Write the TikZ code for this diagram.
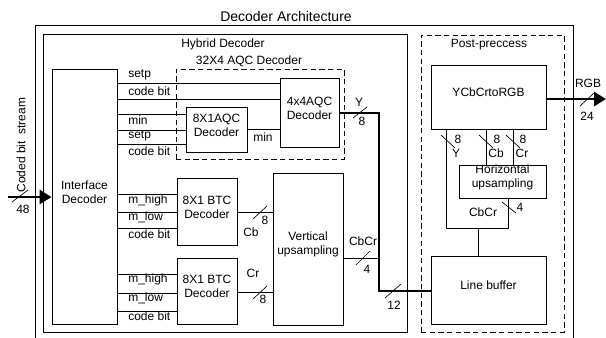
\documentclass[tikz,border=0pt]{standalone}
\usepackage{fontspec}
\setmainfont{Liberation Sans}
\usetikzlibrary{fit,arrows.meta}
\begin{document}
\begin{tikzpicture}[x=0.75pt,y=-0.75pt,
  font=\fontsize{9}{10.5}\selectfont,
  blk/.style={draw, line width=0.7pt, inner sep=0pt, align=center},
  ln/.style={line width=0.7pt},
  lbl/.style={inner sep=0pt},
  thk/.style={line width=2.2pt},
  dbox/.style={draw, line width=0.7pt, inner sep=0pt, dash pattern=on 4pt off 2.5pt},
  tick/.style={line width=0.5pt},
  arr/.style={line width=2.2pt, -{Triangle[length=9pt,width=10.5pt]}}]
\useasboundingbox (0,0) rectangle (606,337);

% frames
\node[lbl, font=\fontsize{10.5}{12}\selectfont] (title) at (286,16) {Decoder Architecture};
\node[blk, fit={(35,25) (573,360)}] (outer) {};
\node[blk, fit={(43,34) (407,332)}] (hyb) {};
\node[lbl] (hybt) at (223,44) {Hybrid Decoder};
\node[dbox, fit={(176,69) (344,159)}] (aqc32) {};
\node[lbl] (aqc32t) at (249,61) {32X4 AQC Decoder};
\node[dbox, fit={(421,35) (564,332)}] (post) {};
\node[lbl] (postt) at (489,45) {Post-preccess};

% blocks
\node[blk, fit={(52,69) (117,324)}] (iface) {Interface\\Decoder};
\node[blk, fit={(186,107) (247,152)}] (aqc8) {8X1AQC\\Decoder};
\node[blk, fit={(280,78) (339,147)}] (aqc4) {4x4AQC\\Decoder};
\node[blk, fit={(177,178) (237,245)}] (btc1) {8X1 BTC\\Decoder};
\node[blk, fit={(177,258) (237,324)}] (btc2) {8X1 BTC\\Decoder};
\node[blk, fit={(273,173) (343,325)}] (vup) {Vertical\\upsampling};
\node[blk, fit={(431,65) (546,129)}] (ycc) {YCbCrtoRGB};
\node[blk, fit={(459,165) (546,198)}] (hup) {Horizontal\\upsampling};
\node[blk, fit={(431,256) (546,324)}] (lb) {Line buffer};

% interface -> AQC
\draw[ln] (iface.east |- 0,83) -- (aqc4.west |- 0,83);
\draw[ln] (iface.east |- 0,99) -- (aqc4.west |- 0,99);
\draw[ln] (iface.east |- 0,114) -- (aqc8.west |- 0,114);
\draw[ln] (iface.east |- 0,130) -- (aqc8.west |- 0,130);
\draw[ln] (iface.east |- 0,144) -- (aqc8.west |- 0,144);
\draw[ln] (aqc8.east |- 0,129) -- (aqc4.west |- 0,129);
% interface -> BTC
\draw[ln] (iface.east |- 0,194) -- (btc1.west |- 0,194);
\draw[ln] (iface.east |- 0,212) -- (btc1.west |- 0,212);
\draw[ln] (iface.east |- 0,228) -- (btc1.west |- 0,228);
\draw[ln] (iface.east |- 0,274) -- (btc2.west |- 0,274);
\draw[ln] (iface.east |- 0,293) -- (btc2.west |- 0,293);
\draw[ln] (iface.east |- 0,311) -- (btc2.west |- 0,311);
% BTC -> vertical upsampling
\draw[ln] (btc1.east |- 0,212) -- (vup.west |- 0,212);
\draw[ln] (btc2.east |- 0,292) -- (vup.west |- 0,292);

% labels on wires
\node[lbl, anchor=west] (l1) at (128,75) {setp};
\node[lbl, anchor=west] (l2) at (128,91) {code bit};
\node[lbl, anchor=west] (l3) at (128,120) {min};
\node[lbl, anchor=west] (l4) at (128,136) {setp};
\node[lbl, anchor=west] (l5) at (128,151) {code bit};
\node[lbl, anchor=west] (l6) at (128,200) {m\_high};
\node[lbl, anchor=west] (l7) at (128,217) {m\_low};
\node[lbl, anchor=west] (l8) at (128,234) {code bit};
\node[lbl, anchor=west] (l9) at (128,279) {m\_high};
\node[lbl, anchor=west] (l10) at (128,298) {m\_low};
\node[lbl, anchor=west] (l11) at (128,316) {code bit};
\node[lbl] (lmin) at (263,137) {min};

% thick Y path
\coordinate (tc1) at (379,113);
\coordinate (tc2) at (379,291);
\coordinate (tc3) at (379,258);
\draw[thk] (aqc4.east |- tc1) -- (tc1) -- (tc2) -- (lb.west |- tc2);
\draw[ln] (vup.east |- tc3) -- (tc3);
\node[lbl] (ly) at (359,102) {Y};
\node[lbl] (ly8) at (362,121) {8};
\draw[tick] (353,118) -- (367,107);
\node[lbl] (lcb) at (251,232) {Cb};
\node[lbl] (lcb8) at (265,220) {8};
\draw[tick] (253,219) -- (267,206);
\node[lbl] (lcr) at (253,273) {Cr};
\node[lbl] (lcr8) at (263,299) {8};
\draw[tick] (253,299) -- (267,286);
\node[lbl] (lcbcr) at (363,241) {CbCr};
\node[lbl] (lcbcr4) at (367,269) {4};
\draw[tick] (356,265) -- (370,251);
\node[lbl] (l12) at (394,305) {12};
\draw[tick] (385,298) -- (401,284);

% input arrow
\coordinate (cbs) at (8,197);
\draw[arr] (cbs) -- (iface.west |- cbs);
\node[lbl, rotate=90] (cbst) at (21,145) {Coded bit\ \ stream};
\node[lbl] (l48) at (23,209) {48};
\draw[tick] (12,202) -- (28,190);

% output arrow
\coordinate (rgb) at (606,99);
\draw[arr] (ycc.east |- rgb) -- (rgb);
\node[lbl] (lrgb) at (588,83) {RGB};
\node[lbl] (l24) at (587,116) {24};
\draw[tick] (580,106) -- (594,93);

% post-process wiring
\coordinate (bl) at (446,228);
\coordinate (br) at (508,228);
\coordinate (bm) at (478,228);
\draw[ln] (ycc.south -| bl) -- (bl) -- (br) -- (hup.south -| br);
\draw[ln] (bm) -- (lb.north -| bm);
\draw[ln] (ycc.south -| 486,0) -- (hup.north -| 486,0);
\draw[ln] (ycc.south -| 513,0) -- (hup.north -| 513,0);
\draw[tick] (441,135) -- (455,148);
\node[lbl] (py8) at (458,139) {8};
\node[lbl] (pyy) at (456,153) {Y};
\draw[tick] (479,135) -- (493,148);
\node[lbl] (pcb8) at (497,139) {8};
\draw[tick] (506,135) -- (520,148);
\node[lbl] (pcb) at (496,153) {Cb};
\node[lbl] (pcr8) at (523,139) {8};
\node[lbl] (pcr) at (522,153) {Cr};
\node[lbl] (pcbcr) at (483,212) {CbCr};
\node[lbl] (p4) at (520,207) {4};
\draw[tick] (502,202) -- (516,213);
\end{tikzpicture}
\end{document}
